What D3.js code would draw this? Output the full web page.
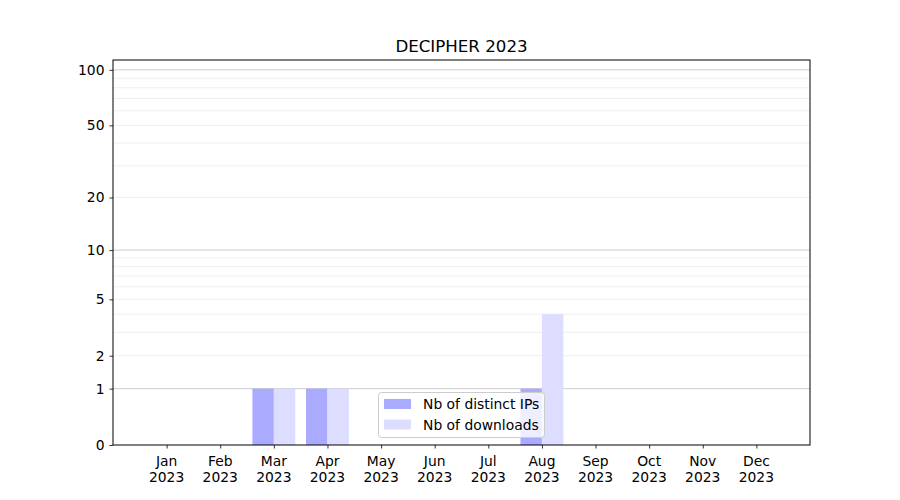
<!DOCTYPE html>
<html><head><meta charset="utf-8">
<script src="https://cdn.jsdelivr.net/npm/d3@7"></script>
<style>body{margin:0;background:#fff;} text{font-family:"DejaVu Sans",sans-serif;}</style>
</head><body>
<svg id="c" width="900" height="500"></svg>
<script>
const title = "DECIPHER 2023";
const months = ["Jan","Feb","Mar","Apr","May","Jun","Jul","Aug","Sep","Oct","Nov","Dec"];
const year = "2023";
const ips = [0,0,1,1,0,0,0,1,0,0,0,0];
const downloads = [0,0,1,1,0,0,0,4,0,0,0,0];
const seriesNames = ["Nb of distinct IPs","Nb of downloads"];
const seriesColors = ["#aaaaff","#ddddff"];
const yTicks = [0,1,2,5,10,20,50,100];
const yMajorGrid = [1,10,100];
const yMinorGrid = [2,3,4,5,6,7,8,9,20,30,40,50,60,70,80,90];
const yMax = 113;

const svg = d3.select("#c");
const L=113, R=810, T=60, B=445;
const FS = "13.89px";
const x = d3.scaleLinear().domain([-1,12]).range([L,R]);
const tf = v => Math.log10(v+1);
const yl = d3.scaleLinear().domain([0,tf(yMax)]).range([B,T]);
const y = v => yl(tf(v));

// grid
svg.append("g").selectAll("line").data(yMinorGrid).join("line")
  .attr("x1",L).attr("x2",R).attr("y1",d=>y(d)).attr("y2",d=>y(d))
  .attr("stroke","#ebebeb").attr("stroke-width",0.8);
svg.append("g").selectAll("line").data(yMajorGrid).join("line")
  .attr("x1",L).attr("x2",R).attr("y1",d=>y(d)).attr("y2",d=>y(d))
  .attr("stroke","#cccccc").attr("stroke-width",1);

const bw = 0.4;
svg.append("g").selectAll("rect").data(ips).join("rect")
  .attr("x",(d,i)=>x(i-bw)).attr("width",(d,i)=>x(i)-x(i-bw))
  .attr("y",d=>y(d)).attr("height",d=>B-y(d)).attr("fill",seriesColors[0]);
svg.append("g").selectAll("rect").data(downloads).join("rect")
  .attr("x",(d,i)=>x(i)).attr("width",(d,i)=>x(i+bw)-x(i))
  .attr("y",d=>y(d)).attr("height",d=>B-y(d)).attr("fill",seriesColors[1]);

// axes
const yAxis = d3.axisLeft(yl).tickValues(yTicks.map(tf)).tickFormat((d,i)=>yTicks[i]).tickSizeOuter(0).tickSize(3.5).tickPadding(5);
const gy = svg.append("g").attr("transform",`translate(${L},0)`).call(yAxis);
gy.select(".domain").remove();
gy.selectAll("text").attr("font-size",FS).attr("fill","#000").style("font-family","DejaVu Sans");
gy.selectAll("line").attr("stroke","#000").attr("stroke-width",0.8);

const xAxis = d3.axisBottom(x).tickValues(d3.range(months.length)).tickFormat("").tickSize(3.5).tickSizeOuter(0);
const gx = svg.append("g").attr("transform",`translate(0,${B})`).call(xAxis);
gx.select(".domain").remove();
gx.selectAll("line").attr("stroke","#000").attr("stroke-width",0.8);
const lab = svg.append("g").selectAll("text").data(months).join("text")
  .attr("x",(d,i)=>x(i)).attr("text-anchor","middle").attr("font-size",FS);
lab.append("tspan").attr("x",(d,i)=>x(i)).attr("y",466).text(d=>d);
lab.append("tspan").attr("x",(d,i)=>x(i)).attr("y",482).text(year);

// frame
svg.append("rect").attr("x",L).attr("y",T).attr("width",R-L).attr("height",B-T)
  .attr("fill","none").attr("stroke","#000").attr("stroke-width",1);

// title
svg.append("text").attr("x",(L+R)/2).attr("y",52).attr("text-anchor","middle")
  .attr("font-size","16.67px").text(title);

// legend
const lg = svg.append("g");
lg.append("rect").attr("x",378.5).attr("y",392.5).attr("width",166).attr("height",45).attr("rx",3)
  .attr("fill","#fff").attr("fill-opacity",0.8).attr("stroke","#cccccc").attr("stroke-width",1);
seriesNames.forEach((n,i)=>{
  lg.append("rect").attr("x",384).attr("y",399+i*20.5).attr("width",27).attr("height",10).attr("fill",seriesColors[i]);
  lg.append("text").attr("x",423).attr("y",409+i*20.5).attr("font-size",FS).text(n);
});
</script>
</body></html>
